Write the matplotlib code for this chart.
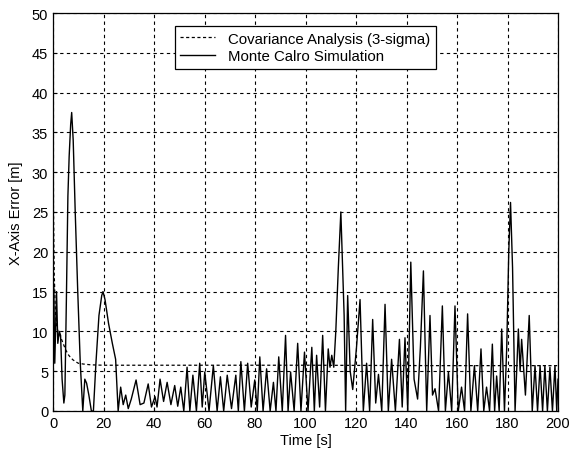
import matplotlib
matplotlib.use("Agg")
import matplotlib.pyplot as plt

# Covariance analysis (3-sigma)
cov_time = [0, 0.2, 0.5, 1, 1.5, 2, 3, 4, 5, 6, 7, 8, 10, 12, 15, 20, 30, 60, 100, 150, 200]
cov_value = [40, 25, 17, 12, 10.5, 10, 9.3, 8.5, 7.7, 7.1, 6.7, 6.4, 6.0, 5.9, 5.8, 5.75, 5.75, 5.75, 5.75, 5.7, 5.7]

# Monte Carlo simulation (peaks and troughs)
mc_time = [
    0, 0.3, 0.7, 1.4, 1.9, 2.5, 3.0, 3.6, 4.3, 4.7,
    5.3, 5.9, 6.4, 7.0, 7.4, 8.0, 8.8, 9.8, 10.8, 11.8,
    12.6, 13.3, 14.2, 15.2, 16.0, 17.0, 18.2, 19.3, 19.8, 20.6,
    22.0, 23.5, 24.8, 25.8,
    26.8, 27.8, 28.8, 29.8, 31.0, 32.9, 34.5, 36.0, 37.7, 39.0,
    40.4, 41.2, 42.4, 43.8, 45.2, 46.7, 48.2, 49.4, 50.6, 51.8,
    53.1, 54.2, 55.4, 56.8, 58.1, 59.1, 60.1, 61.8, 63.5, 65.0,
    66.3, 67.6, 69.0, 70.7, 72.4, 73.4, 74.4, 75.8, 77.1, 78.5,
    79.9, 80.9, 81.9, 83.2, 84.6, 86.0, 87.3, 88.3, 89.4, 90.8,
    92.1, 93.1, 94.1, 95.5, 96.9, 98.2, 99.6, 101.0, 102.5, 103.5,
    104.4, 105.6, 106.8, 107.9, 109.0, 109.7, 110.4, 111.2, 112.0, 113.0,
    114.0, 115.3, 115.9, 116.7, 117.7, 118.7, 120.2, 121.6, 122.9, 124.2,
    125.4, 126.6, 127.8, 128.9, 130.2, 131.5, 132.8, 134.1, 135.6, 137.2,
    138.3, 139.4, 140.5, 141.7, 143.0, 144.4, 145.5, 146.7, 148.0, 149.3,
    150.3, 151.3, 152.7, 154.2, 155.4, 156.6, 157.9, 159.2, 160.5, 161.8,
    163.0, 164.2, 165.5, 166.9, 168.2, 169.5, 170.6, 171.7, 172.9, 174.0,
    174.9, 175.7, 176.7, 177.7, 178.8, 179.7, 180.5, 181.2, 182.0, 183.0,
    184.3, 185.0, 185.6, 187.1, 188.6, 189.8, 190.9, 191.9, 192.9, 193.9,
    194.8, 195.8, 196.8, 197.8, 198.8, 199.5, 200,
]
mc_value = [
    0, 16, 6, 15, 8.5, 10, 9.5, 4, 1, 2,
    14, 27, 32, 36, 37.5, 34, 25, 15, 6, 0,
    4, 3.5, 2, 0, 0, 6, 12, 14.5, 15, 14,
    11, 8.5, 6.5, 0,
    3, 0.8, 2, 0.3, 1.5, 3.9, 0.8, 1.0, 3.4, 0.5,
    1.8, 0.5, 4.0, 1.2, 3.6, 0.8, 3.2, 0.6, 3.0, 0,
    5.5, 0, 4.5, 0, 6.0, 0.5, 4.9, 0, 5.7, 0,
    4.3, 0, 4.5, 0.3, 4.5, 0, 6.2, 0, 6.0, 0.5,
    3.9, 0, 6.8, 0, 5.3, 0, 3.6, 0, 6.8, 0,
    9.5, 0, 4.9, 0, 8.5, 0, 7.4, 0, 8.0, 0,
    7.0, 0.5, 9.5, 0, 7.8, 5.5, 7.0, 5.5, 10, 18,
    25, 12, 0, 14.5, 5, 2.7, 8, 14, 0, 6,
    0, 11.5, 1, 4.6, 0, 13.4, 0, 6.5, 0, 9,
    0.5, 9.2, 0, 18.7, 4, 1.5, 8, 17.6, 0, 12,
    2, 2.8, 0, 13.2, 0, 4.9, 0, 13.2, 0, 3,
    0, 12.2, 0, 5.7, 0, 7.8, 0, 3, 0, 8.4,
    0, 4.4, 0, 10.3, 0, 8, 20, 26.2, 18, 0,
    10.3, 5, 9, 2, 12, 0, 5.7, 0, 5.7, 0,
    5.7, 0, 5.5, 0, 5.7, 0, 4,
]

x_ticks = [0, 20, 40, 60, 80, 100, 120, 140, 160, 180, 200]
y_ticks = [0, 5, 10, 15, 20, 25, 30, 35, 40, 45, 50]

plt.rcParams['font.family'] = ['Liberation Sans', 'DejaVu Sans']

fig = plt.figure(figsize=(5.69, 4.56), dpi=100)
ax = fig.add_axes([53/569, 1 - 412/456, (558 - 53)/569, (412 - 14)/456])

ax.plot(cov_time, cov_value, color='black', lw=0.9, ls=(0, (2.5, 2)),
        label='Covariance Analysis (3-sigma)')
ax.plot(mc_time, mc_value, color='black', lw=1.0, ls='-',
        label='Monte Calro Simulation')

ax.set_xlim(0, 200)
ax.set_ylim(0, 50)
ax.set_xticks(x_ticks)
ax.set_yticks(y_ticks)
ax.tick_params(direction='in', labelsize=10.5, length=3, width=0.8)
ax.grid(True, color='black', ls=(0, (3, 3)), lw=0.8)
for s in ax.spines.values():
    s.set_linewidth(0.9)

ax.set_xlabel('Time [s]', fontsize=10.5, labelpad=2)
ax.set_ylabel('X-Axis Error [m]', fontsize=10.5, labelpad=6)

leg = ax.legend(loc='upper center', bbox_to_anchor=(0.5, 0.985), fontsize=10.8,
                fancybox=False, framealpha=1, edgecolor='black',
                handlelength=2.3, handletextpad=0.9, borderpad=0.35,
                labelspacing=0.25)
leg.get_frame().set_linewidth(0.9)

fig.savefig('out.png', dpi=100)
